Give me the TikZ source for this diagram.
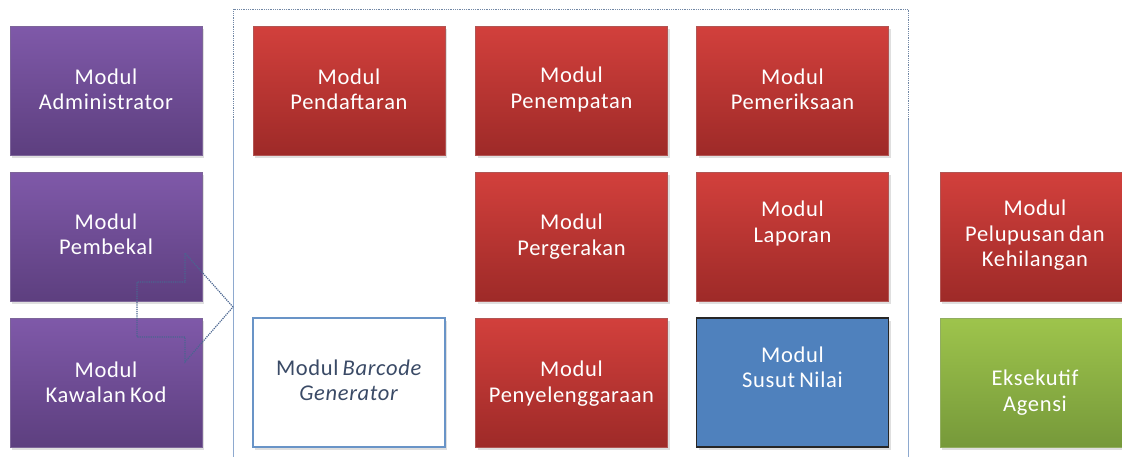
\documentclass[tikz,border=0pt]{standalone}
\usepackage{fontspec}
\setmainfont{Carlito}
\usetikzlibrary{shadows}
\definecolor{redtop}{HTML}{D2403C}
\definecolor{redbot}{HTML}{9E2A28}
\definecolor{purtop}{HTML}{7F59A9}
\definecolor{purbot}{HTML}{5D3F7F}
\definecolor{grntop}{HTML}{9EC44C}
\definecolor{grnbot}{HTML}{76993A}
\definecolor{bluebox}{HTML}{4F81BD}
\definecolor{frame}{HTML}{8EA9CF}
\definecolor{arrowc}{HTML}{4A6590}
\definecolor{bctext}{HTML}{3A4A66}
\newfontfamily\boxfont[LetterSpace=3,WordSpace=0.7]{Carlito}
\tikzset{
  box/.style={rectangle, minimum width=192pt, minimum height=129pt, inner sep=0pt,
    drop shadow={opacity=0.25, shadow xshift=2pt, shadow yshift=-3pt}},
  redbox/.style={box, top color=redtop, bottom color=redbot, draw=redbot!80!white, line width=0.3pt},
  purbox/.style={box, top color=purtop, bottom color=purbot, draw=purbot!80!white, line width=0.3pt},
  grnbox/.style={box, top color=grntop, bottom color=grnbot, draw=grnbot!80!white, line width=0.3pt},
  bluebx/.style={box, fill=bluebox, draw=black!85, line width=1.3pt},
  whitebx/.style={box, fill=white, draw=bluebox!85!white, line width=1.3pt},
  lbl/.style={text=white, align=center, font=\boxfont\fontsize{22.5}{25.5}\selectfont},
  dlbl/.style={text=bctext, align=center, font=\boxfont\fontsize{22.5}{25.5}\selectfont},
}
\begin{document}
\begin{tikzpicture}[x=1pt,y=-1pt]
\useasboundingbox (0,0) rectangle (1122,456);
% container frame
\draw[frame!80!black, line width=0.8pt, densely dotted] (233,120) -- (233,9) -- (908,9) -- (908,120);
\draw[frame, line width=0.8pt] (233,120) -- (233,460);
\draw[frame, line width=0.8pt] (908,120) -- (908,460);
% purple column
\node[purbox] (adm) at (106,90.5) {};
\node[lbl] at (adm.center) [yshift=1pt] {Modul\\Administrator};
\node[purbox] (pem) at (106,236.5) {};
\node[lbl] at (pem.center) [yshift=2pt] {Modul\\Pembekal};
\node[purbox] (kaw) at (106,382.5) {};
\node[lbl] at (kaw.center) {Modul\\Kawalan Kod};
% row 1
\node[redbox] (daf) at (349,90.5) {};
\node[lbl] at (daf.center) [yshift=1pt] {Modul\\Pendaftaran};
\node[redbox] (tem) at (571.5,90.5) {};
\node[lbl] at (tem.center) [yshift=1pt] {Modul\\Penempatan};
\node[redbox] (per) at (792.5,90.5) {};
\node[lbl] at (per.center) [yshift=1pt] {Modul\\Pemeriksaan};
% row 2
\node[redbox] (ger) at (571.5,236.5) {};
\node[lbl] at (ger.center) {Modul\\Pergerakan};
\node[redbox] (lap) at (792.5,236.5) {};
\node[lbl] at (lap.center) [yshift=13pt] {Modul\\Laporan};
\node[redbox, minimum width=190pt] (lup) at (1035,236.5) {};
\node[lbl] at (lup.center) [yshift=1pt] {Modul\\Pelupusan dan\\Kehilangan};
% row 3
\node[whitebx] (bar) at (349,382.5) {};
\node[dlbl] at (bar.center) [yshift=2pt] {Modul \textit{Barcode}\\\textit{Generator}};
\node[redbox] (sel) at (571.5,382.5) {};
\node[lbl] at (sel.center) [yshift=-1pt] {Modul\\Penyelenggaraan};
\node[bluebx] (sus) at (792.5,382.5) {};
\node[lbl] at (sus.center) [yshift=15pt] {Modul\\Susut Nilai};
\node[grnbox, minimum width=190pt] (eks) at (1035,382.5) {};
\node[lbl] at (eks.center) [yshift=-10pt] {Eksekutif\\Agensi};
% bent arrow pointing into the container
\coordinate (tip) at (233,307);
\draw[arrowc, line width=1.2pt, densely dotted]
  (tip) -- (185,253) -- (185,282) -- (137,282) -- (137,337) -- (185,337) -- (185,362) -- cycle;
\end{tikzpicture}
\end{document}
